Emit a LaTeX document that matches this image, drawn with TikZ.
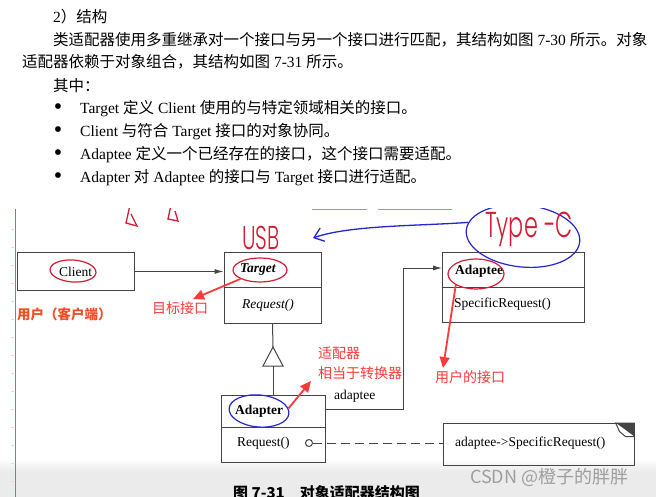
\documentclass[tikz,border=0pt]{standalone}
\usepackage{fontspec}
\setmainfont{Liberation Serif}
\newfontfamily\cjk{Noto Sans CJK SC}
\IfFontExistsTF{Poppins Light}
  {\newfontfamily\handfont[FakeStretch=0.62]{Poppins Light}}
  {\IfFontExistsTF{Lato Light}
    {\newfontfamily\handfont[FakeStretch=0.7]{Lato Light}}
    {\IfFontExistsTF{Fira Sans Light}
      {\newfontfamily\handfont[FakeStretch=0.7]{Fira Sans Light}}
      {\newfontfamily\handfont[FakeStretch=0.65]{Liberation Sans}}}}
\usepackage{tikz}
\usetikzlibrary{arrows.meta,positioning,shapes.geometric}
\definecolor{notered}{RGB}{252,58,58}
\definecolor{inkred}{RGB}{212,28,52}
\definecolor{inkblue}{RGB}{38,38,205}
\definecolor{userorange}{RGB}{240,78,34}
\definecolor{umlgray}{RGB}{68,68,68}

\begin{document}
\begin{tikzpicture}[x=1pt,y=-1pt,
  umlline/.style={draw=umlgray,line width=1pt},
  umlbox/.style={umlline,inner sep=0pt},
  umltext/.style={anchor=west,inner sep=0pt,font=\fontsize{13.5}{16}\selectfont},
  bodytext/.style={anchor=west,inner sep=0pt,font=\fontsize{15.5}{18}\selectfont},
  bulletmark/.style={inner sep=0pt,font=\fontsize{24}{24}\selectfont},
  redmark/.style={anchor=west,inner sep=0pt,text=notered,font=\cjk\fontsize{14}{16}\selectfont},
  redarrow/.style={draw=notered,line width=1.8pt,-{Triangle[length=11pt,width=10pt]}},
  ring/.style={ellipse,draw=#1,line width=1.2pt,inner sep=0pt},
  hand/.style={anchor=base west,inner sep=0pt,text=inkred},
  >={Latex[length=9pt,width=5pt]}]
  \useasboundingbox (0,0) rectangle (656,497);
  \fill[white] (0,0) rectangle (656,497);
  % page text
  \node[bodytext] (heading) at (53,17) {2{\cjk ）结构}};
  \node[bodytext] (para1) at (53,40) {{\cjk 类适配器使用多重继承对一个接口与另一个接口进行匹配，其结构如图} 7-30 {\cjk 所示。对象}};
  \node[bodytext] (para2) at (22,62) {{\cjk 适配器依赖于对象组合，其结构如图} 7-31 {\cjk 所示。}};
  \node[bodytext] (among) at (53,86) {{\cjk 其中：}};
  \node[bulletmark] (dot1) at (58,109) {•};
  \node[bodytext] (item1) at (80,109) {Target {\cjk 定义} Client {\cjk 使用的与特定领域相关的接口。}};
  \node[bulletmark] (dot2) at (58,132) {•};
  \node[bodytext] (item2) at (80,132) {Client {\cjk 与符合} Target {\cjk 接口的对象协同。}};
  \node[bulletmark] (dot3) at (58,155) {•};
  \node[bodytext] (item3) at (80,155) {Adaptee {\cjk 定义一个已经存在的接口，这个接口需要适配。}};
  \node[bulletmark] (dot4) at (58,178) {•};
  \node[bodytext] (item4) at (80,178) {Adapter {\cjk 对} Adaptee {\cjk 的接口与} Target {\cjk 接口进行适配。}};
  % bottom band, caption, watermark
  \shade[top color=white,bottom color=black!8] (0,458) rectangle (656,472);
  \fill[black!8] (0,472) rectangle (656,497);
  \node[bodytext,font=\cjk\bfseries\fontsize{15}{18}\selectfont] (caption) at (233,493) {图 7-31\quad 对象适配器结构图};
  \node[anchor=west,inner sep=0pt,text=black!38,font=\cjk\fontsize{18}{20}\selectfont] (watermark) at (470,477) {CSDN @橙子的胖胖};
  % margin line of the screenshot
  \draw[red!70,line width=0.8pt] (15,209) -- (15,497);
  \foreach \y in {229,247,...,481}
    \draw[cyan!25,line width=0.8pt] (11,\y) -- (14,\y);
  % classes
  \node[umlbox,font=\fontsize{13.5}{16}\selectfont,minimum width=117,minimum height=37] (client) at (75.5,271.5) {Client};
  \node[umlbox,minimum width=97,minimum height=70] (target) at (272.5,288) {};
  \draw[umlline] ([yshift=-35pt]target.north west) -- ([yshift=-35pt]target.north east);
  \node[umltext] (targetname) at (240,270) {\textbf{\textit{Target}}};
  \node[umltext] (targetop) at (242,305) {\textit{Request()}};
  \node[umlbox,minimum width=142,minimum height=69] (adaptee) at (513,287.5) {};
  \draw[umlline] ([yshift=-35pt]adaptee.north west) -- ([yshift=-35pt]adaptee.north east);
  \node[umltext] (adapteename) at (455,271) {\textbf{Adaptee}};
  \node[umltext] (adapteeop) at (454,304) {SpecificRequest()};
  \node[umlbox,minimum width=104,minimum height=67] (adapter) at (273,428.5) {};
  \draw[umlline] ([yshift=-33pt]adapter.north west) -- ([yshift=-33pt]adapter.north east);
  \node[umltext] (adaptername) at (235,411) {\textbf{Adapter}};
  \node[umltext] (adapterop) at (237,443) {Request()};
  % note with folded corner
  \node[umlbox,minimum width=191,minimum height=42] (note) at (538.5,444) {};
  \fill[umlgray] (note.north east) -- ++(-19,0) -- ++(19,14) -- cycle;
  \draw[umlline] ([xshift=-19pt]note.north east) -- ++(4,9) -- ++(6,5) -- ++(9,0);
  \node[umltext] (notetext) at (455,443) {adaptee->SpecificRequest()};
  % relations
  \draw[umlline,->] (client) -- (client -| target.west);
  \coordinate (triapex) at (273,347);
  \coordinate (tribase) at (273,366);
  \draw[umlline] (target.south) -- (triapex);
  \draw[umlline,fill=white] (triapex) -- ++(-10,19) -- ++(20,0) -- cycle;
  \draw[umlline] (tribase) -- (adapter.north);
  \coordinate (bend) at (403,409);
  \coordinate (adapteein) at (442,268);
  \draw[umlline,->] (adapter.east |- bend) -- (bend) |- (adapteein);
  \node[umltext] (rolelabel) at (334,396) {adaptee};
  \node[circle,umlline,minimum size=7,inner sep=0pt] (knob) at (309,443) {};
  \draw[umlline,dash pattern=on 9pt off 5pt] (knob.east) -- (knob.east -| note.west);
  % handwritten marks (cut off at the top of the screenshot)
  \begin{scope}
    \clip (0,209) rectangle (656,497);
    \draw[inkred,line width=1.3pt] (130,205) -- (126,223) -- (137,226) -- (131,214);
    \draw[inkred,line width=1.3pt] (171,205) -- (168,219) -- (178,221) -- (175,211);
    \draw[red!55,line width=1.4pt] (312,209.5) -- (367,209.5) (378,209.5) -- (452,209.5);
    \node[ring=inkblue,minimum width=114,minimum height=62,rotate=-6] (ringtype) at (523,236) {};
  \end{scope}
  \node[hand,font=\handfont\fontsize{33}{33}\selectfont] (usb) at (242,250) {USB};
  \node[hand,font=\handfont\fontsize{36}{36}\selectfont] (typec) at (485,238) {Type -C};
  \coordinate (usbtip) at (313,238);
  \draw[inkblue,line width=1.3pt,-{Straight Barb[length=9pt,width=14pt]}] (ringtype.172) .. controls (420,226) and (350,225) .. (usbtip);
  % rings round the class names
  \node[ring=inkred,minimum width=46,minimum height=22,rotate=-4] (ringclient) at (73,271) {};
  \node[ring=inkred,minimum width=54,minimum height=24] (ringtarget) at (260,270) {};
  \node[ring=inkred,minimum width=56,minimum height=30] (ringadaptee) at (476,274) {};
  \node[ring=inkblue,minimum width=60,minimum height=32,rotate=-5] (ringadapter) at (259,411) {};
  % red notes
  \node[redmark,text=userorange,font=\cjk\bfseries\fontsize{13.5}{16}\selectfont] (userlabel) at (17,314) {用户（客户端）};
  \node[redmark] (goallabel) at (152,308) {目标接口};
  \node[redmark] (adapterlabel) at (318,353) {适配器};
  \node[redmark] (adapterlabel2) at (318,373) {相当于转换器};
  \node[redmark] (userport) at (435,377) {用户的接口};
  \coordinate (goaltip) at (193,299);
  \coordinate (adaptertip) at (311,381);
  \coordinate (porttip) at (443,368);
  \draw[redarrow] (ringtarget.south west) -- (goaltip);
  \draw[redarrow] (ringadapter.10) -- (adaptertip);
  \draw[redarrow] (ringadaptee.south west) -- (porttip);
\end{tikzpicture}
\end{document}
